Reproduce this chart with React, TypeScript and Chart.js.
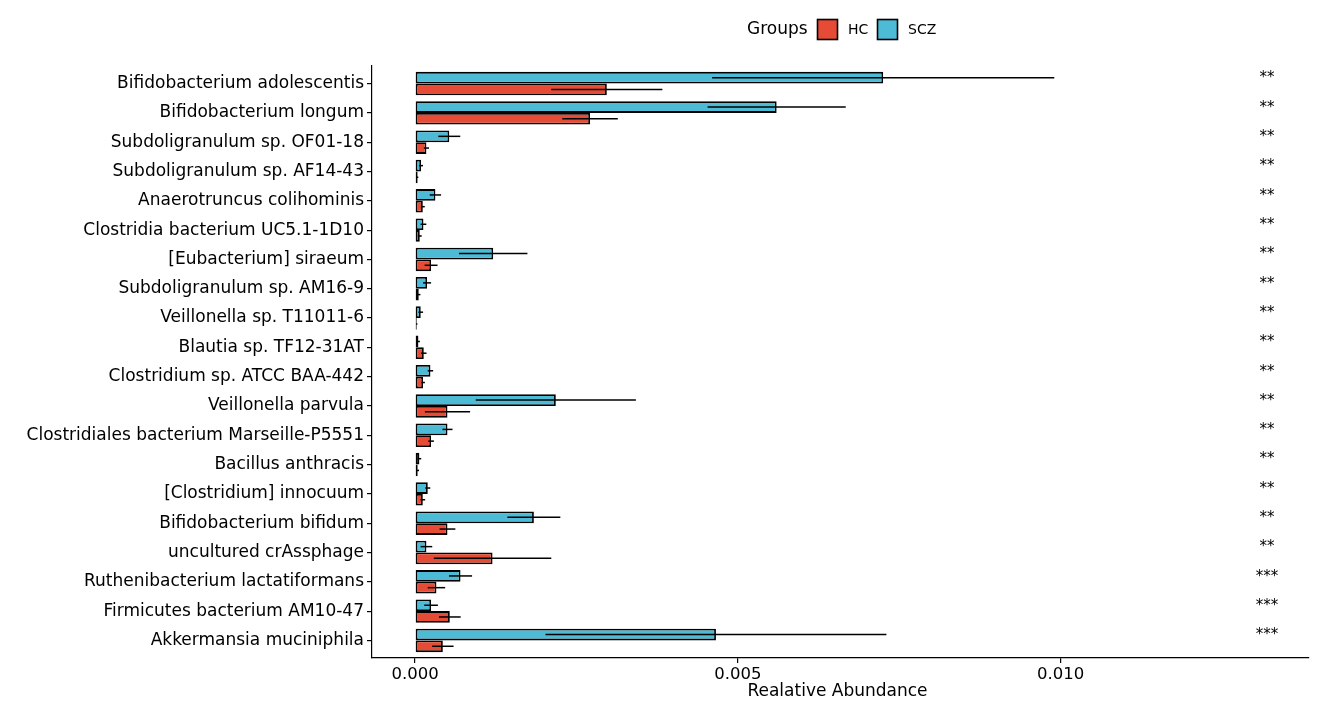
import React, { useEffect, useRef } from 'react';
import { Chart, registerables } from 'chart.js';

Chart.register(...registerables);

const species = [
  'Bifidobacterium adolescentis',
  'Bifidobacterium longum',
  'Subdoligranulum sp. OF01-18',
  'Subdoligranulum sp. AF14-43',
  'Anaerotruncus colihominis',
  'Clostridia bacterium UC5.1-1D10',
  '[Eubacterium] siraeum',
  'Subdoligranulum sp. AM16-9',
  'Veillonella sp. T11011-6',
  'Blautia sp. TF12-31AT',
  'Clostridium sp. ATCC BAA-442',
  'Veillonella parvula',
  'Clostridiales bacterium Marseille-P5551',
  'Bacillus anthracis',
  '[Clostridium] innocuum',
  'Bifidobacterium bifidum',
  'uncultured crAssphage',
  'Ruthenibacterium lactatiformans',
  'Firmicutes bacterium AM10-47',
  'Akkermansia muciniphila',
];

const sczMean = [
  0.00725, 0.0056, 0.00053, 0.000093, 0.000315, 0.00013, 0.00121, 0.000186, 0.000088, 0.000052,
  0.000238, 0.00218, 0.000502, 0.000067, 0.000197, 0.00184, 0.000176, 0.000704, 0.000248, 0.00466,
];
const sczErr = [
  0.00265, 0.00107, 0.00017, 0.00003, 0.000088, 0.000044, 0.00053, 0.000062, 0.000036, 0.000023,
  0.000042, 0.00124, 0.000078, 0.000028, 0.000039, 0.00041, 0.00009, 0.000179, 0.000106, 0.00264,
];
const hcMean = [
  0.00297, 0.00271, 0.000176, 0.00004, 0.00012, 0.000073, 0.000248, 0.000057, 0.000026, 0.000135,
  0.000124, 0.000502, 0.000248, 0.000041, 0.00012, 0.000502, 0.0012, 0.000331, 0.000538, 0.00043,
];
const hcErr = [
  0.00086, 0.00043, 0.00004, 0.00001, 0.00003, 0.00003, 0.0001, 0.000026, 0.00001, 0.000042,
  0.000028, 0.00035, 0.000044, 0.00002, 0.000036, 0.000122, 0.00091, 0.000135, 0.000168, 0.000166,
];
const signif = [
  '**', '**', '**', '**', '**', '**', '**', '**', '**', '**',
  '**', '**', '**', '**', '**', '**', '**', '***', '***', '***',
];
const xTicks = [0, 0.005, 0.01];

const SCZ_COLOR = '#4DBBD5';
const HC_COLOR = '#E64B35';
const FONT = "'DejaVu Sans', sans-serif";

const overlayPlugin = {
  id: 'overlay',
  afterDatasetsDraw(chart: any) {
    const ctx = chart.ctx;
    const xs = chart.scales.x;
    const ys = chart.scales.y;
    const sets: [number[], number[]][] = [
      [sczMean, sczErr],
      [hcMean, hcErr],
    ];
    ctx.save();
    ctx.strokeStyle = '#000';
    ctx.lineWidth = 1.5;
    sets.forEach(([m, e], di) => {
      const meta = chart.getDatasetMeta(di);
      meta.data.forEach((bar: any, i: number) => {
        const y = bar.y;
        ctx.beginPath();
        ctx.moveTo(xs.getPixelForValue(m[i] - e[i]), y);
        ctx.lineTo(xs.getPixelForValue(m[i] + e[i]), y);
        ctx.stroke();
      });
    });
    // significance stars
    ctx.fillStyle = '#000';
    ctx.font = `15px ${FONT}`;
    ctx.textAlign = 'center';
    ctx.textBaseline = 'middle';
    signif.forEach((s, i) => {
      ctx.fillText(s, 1267, ys.getPixelForValue(i) - 5);
    });
    ctx.restore();
  },
  afterDraw(chart: any) {
    const ctx = chart.ctx;
    const area = chart.chartArea;
    ctx.save();
    ctx.fillStyle = '#000';
    ctx.textBaseline = 'middle';
    // x title
    ctx.font = `17px ${FONT}`;
    ctx.textAlign = 'center';
    ctx.fillText('Realative Abundance', (area.left + area.right) / 2 - 3, 692);
    // legend
    ctx.textAlign = 'left';
    ctx.fillText('Groups', 747, 30);
    const items: [string, string, number][] = [
      ['HC', HC_COLOR, 817],
      ['SCZ', SCZ_COLOR, 877],
    ];
    items.forEach(([label, color, x]) => {
      ctx.fillStyle = color;
      ctx.fillRect(x + 0.5, 19.5, 20, 20);
      ctx.strokeStyle = '#000';
      ctx.lineWidth = 1.6;
      ctx.strokeRect(x + 0.5, 19.5, 20, 20);
      ctx.fillStyle = '#000';
      ctx.font = `14px ${FONT}`;
      ctx.fillText(label, x + 31, 30);
    });
    ctx.restore();
  },
};

export default function App() {
  const canvasRef = useRef<HTMLCanvasElement | null>(null);

  useEffect(() => {
    if (!canvasRef.current) return;
    const chart = new Chart(canvasRef.current, {
      type: 'bar',
      data: {
        datasets: [
          {
            label: 'SCZ',
            data: sczMean.map((v, i) => ({ x: v, y: i })),
            backgroundColor: SCZ_COLOR,
            borderColor: '#000',
            borderWidth: 1.8,
            borderSkipped: false,
            categoryPercentage: 0.8,
            barPercentage: 1,
          },
          {
            label: 'HC',
            data: hcMean.map((v, i) => ({ x: v, y: i })),
            backgroundColor: HC_COLOR,
            borderColor: '#000',
            borderWidth: 1.8,
            borderSkipped: false,
            categoryPercentage: 0.8,
            barPercentage: 1,
          },
        ],
      } as any,
      options: {
        indexAxis: 'y',
        responsive: false,
        animation: false,
        layout: { padding: { left: 0, top: 66, right: 9, bottom: 0 } },
        plugins: {
          legend: { display: false },
          tooltip: { enabled: false },
        },
        scales: {
          x: {
            type: 'linear',
            min: -0.000667,
            max: 0.013845,
            afterBuildTicks: (s: any) => {
              s.ticks = xTicks.map((v) => ({ value: v }));
            },
            afterFit: (s: any) => {
              s.height = 52;
            },
            ticks: {
              callback: (v: any) => Number(v).toFixed(3),
              font: { family: FONT, size: 16.5 },
              color: '#000',
              padding: 2,
              maxRotation: 0,
            },
            grid: {
              drawOnChartArea: false,
              drawTicks: true,
              tickLength: 5,
              color: '#000',
              lineWidth: 1.2,
            },
            border: { display: true, color: '#000', width: 1.2 },
          },
          y: {
            type: 'linear',
            reverse: true,
            offset: false,
            min: -0.6,
            max: 19.6,
            bounds: 'data',
            afterBuildTicks: (s: any) => {
              s.ticks = species.map((_, i) => ({ value: i }));
            },
            afterFit: (s: any) => {
              s.width = 372;
            },
            ticks: {
              autoSkip: false,
              callback: (v: any) => species[Math.round(Number(v))] ?? '',
              font: { family: FONT, size: 17 },
              color: '#000',
              padding: 3,
            },
            grid: {
              offset: false,
              drawOnChartArea: false,
              drawTicks: true,
              tickLength: 5,
              color: '#000',
              lineWidth: 1.2,
            },
            border: { display: true, color: '#000', width: 1.2 },
          },
        },
      } as any,
      plugins: [overlayPlugin],
    });
    return () => chart.destroy();
  }, []);

  return (
    <div style={{ position: 'fixed', left: 0, top: 0, width: 1318, height: 710, background: '#fff' }}>
      <canvas ref={canvasRef} width={1318} height={710} style={{ display: 'block' }} />
    </div>
  );
}
